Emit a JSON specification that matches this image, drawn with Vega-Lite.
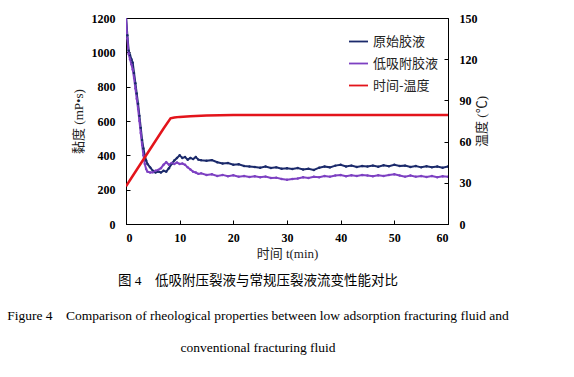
{
  "$schema": "https://vega.github.io/schema/vega-lite/v6.json",
  "width": 322,
  "height": 206,
  "autosize": "none",
  "padding": {"left": 126, "top": 18, "right": 126, "bottom": 153},
  "background": "white",
  "config": {
    "view": {"stroke": "black", "strokeWidth": 1},
    "axis": {
      "grid": false,
      "labelFont": "Liberation Serif",
      "labelFontWeight": "bold",
      "labelFontSize": 12,
      "labelColor": "black",
      "titleFont": "Liberation Serif, Noto Sans CJK SC",
      "titleFontWeight": "normal",
      "titleFontSize": 13,
      "titleColor": "#222222",
      "tickColor": "black",
      "domainColor": "black",
      "tickSize": -4,
      "labelPadding": 15,
      "format": "d"
    }
  },
  "title": {
    "text": "图 4　低吸附压裂液与常规压裂液流变性能对比",
    "subtitle": ["Figure 4\u00a0\u00a0\u00a0\u00a0Comparison of rheological properties between low adsorption fracturing fluid and", "conventional fracturing fluid"],
    "orient": "bottom",
    "anchor": "middle",
    "font": "Liberation Serif, Noto Sans CJK SC",
    "fontSize": 13.5,
    "fontWeight": "normal",
    "color": "black",
    "subtitleFont": "Liberation Serif",
    "subtitleFontSize": 13.5,
    "subtitleColor": "black",
    "subtitlePadding": 21,
    "subtitleLineHeight": 32,
    "offset": 14,
    "dx": -29
  },
  "datasets": {
    "visc": [
      {"t": 0, "v": 1215, "series": "原始胶液"},
      {"t": 0.25, "v": 1100, "series": "原始胶液"},
      {"t": 0.5, "v": 1010, "series": "原始胶液"},
      {"t": 0.75, "v": 985, "series": "原始胶液"},
      {"t": 1.0, "v": 960, "series": "原始胶液"},
      {"t": 1.25, "v": 940, "series": "原始胶液"},
      {"t": 1.5, "v": 880, "series": "原始胶液"},
      {"t": 1.75, "v": 820, "series": "原始胶液"},
      {"t": 2.0, "v": 760, "series": "原始胶液"},
      {"t": 2.25, "v": 700, "series": "原始胶液"},
      {"t": 2.5, "v": 630, "series": "原始胶液"},
      {"t": 2.75, "v": 560, "series": "原始胶液"},
      {"t": 3.0, "v": 490, "series": "原始胶液"},
      {"t": 3.25, "v": 440, "series": "原始胶液"},
      {"t": 3.5, "v": 400, "series": "原始胶液"},
      {"t": 3.75, "v": 370, "series": "原始胶液"},
      {"t": 4.0, "v": 350, "series": "原始胶液"},
      {"t": 4.5, "v": 330, "series": "原始胶液"},
      {"t": 5.0, "v": 310, "series": "原始胶液"},
      {"t": 5.5, "v": 300, "series": "原始胶液"},
      {"t": 6.0, "v": 305, "series": "原始胶液"},
      {"t": 6.5, "v": 300, "series": "原始胶液"},
      {"t": 7.0, "v": 310, "series": "原始胶液"},
      {"t": 7.5, "v": 305, "series": "原始胶液"},
      {"t": 8.0, "v": 325, "series": "原始胶液"},
      {"t": 8.5, "v": 350, "series": "原始胶液"},
      {"t": 9.0, "v": 370, "series": "原始胶液"},
      {"t": 9.5, "v": 385, "series": "原始胶液"},
      {"t": 10, "v": 400, "series": "原始胶液"},
      {"t": 10.5, "v": 385, "series": "原始胶液"},
      {"t": 11, "v": 390, "series": "原始胶液"},
      {"t": 11.5, "v": 375, "series": "原始胶液"},
      {"t": 12, "v": 385, "series": "原始胶液"},
      {"t": 12.5, "v": 378, "series": "原始胶液"},
      {"t": 13, "v": 390, "series": "原始胶液"},
      {"t": 13.5, "v": 375, "series": "原始胶液"},
      {"t": 14, "v": 372, "series": "原始胶液"},
      {"t": 15, "v": 368, "series": "原始胶液"},
      {"t": 16, "v": 372, "series": "原始胶液"},
      {"t": 17, "v": 360, "series": "原始胶液"},
      {"t": 18, "v": 352, "series": "原始胶液"},
      {"t": 19, "v": 355, "series": "原始胶液"},
      {"t": 20, "v": 345, "series": "原始胶液"},
      {"t": 21, "v": 348, "series": "原始胶液"},
      {"t": 22, "v": 338, "series": "原始胶液"},
      {"t": 23, "v": 335, "series": "原始胶液"},
      {"t": 24, "v": 332, "series": "原始胶液"},
      {"t": 25, "v": 328, "series": "原始胶液"},
      {"t": 26, "v": 335, "series": "原始胶液"},
      {"t": 27, "v": 326, "series": "原始胶液"},
      {"t": 28, "v": 330, "series": "原始胶液"},
      {"t": 29, "v": 322, "series": "原始胶液"},
      {"t": 30, "v": 325, "series": "原始胶液"},
      {"t": 31, "v": 320, "series": "原始胶液"},
      {"t": 32, "v": 326, "series": "原始胶液"},
      {"t": 33, "v": 318, "series": "原始胶液"},
      {"t": 34, "v": 322, "series": "原始胶液"},
      {"t": 35, "v": 315, "series": "原始胶液"},
      {"t": 36, "v": 328, "series": "原始胶液"},
      {"t": 37, "v": 335, "series": "原始胶液"},
      {"t": 38, "v": 330, "series": "原始胶液"},
      {"t": 39, "v": 340, "series": "原始胶液"},
      {"t": 40, "v": 345, "series": "原始胶液"},
      {"t": 41, "v": 335, "series": "原始胶液"},
      {"t": 42, "v": 340, "series": "原始胶液"},
      {"t": 43, "v": 332, "series": "原始胶液"},
      {"t": 44, "v": 338, "series": "原始胶液"},
      {"t": 45, "v": 335, "series": "原始胶液"},
      {"t": 46, "v": 340, "series": "原始胶液"},
      {"t": 47, "v": 333, "series": "原始胶液"},
      {"t": 48, "v": 342, "series": "原始胶液"},
      {"t": 49, "v": 336, "series": "原始胶液"},
      {"t": 50, "v": 345, "series": "原始胶液"},
      {"t": 51, "v": 338, "series": "原始胶液"},
      {"t": 52, "v": 340, "series": "原始胶液"},
      {"t": 53, "v": 332, "series": "原始胶液"},
      {"t": 54, "v": 338, "series": "原始胶液"},
      {"t": 55, "v": 330, "series": "原始胶液"},
      {"t": 56, "v": 336, "series": "原始胶液"},
      {"t": 57, "v": 330, "series": "原始胶液"},
      {"t": 58, "v": 335, "series": "原始胶液"},
      {"t": 59, "v": 328, "series": "原始胶液"},
      {"t": 60, "v": 335, "series": "原始胶液"},
      {"t": 0, "v": 1200, "series": "低吸附胶液"},
      {"t": 0.25, "v": 1080, "series": "低吸附胶液"},
      {"t": 0.5, "v": 990, "series": "低吸附胶液"},
      {"t": 0.75, "v": 960, "series": "低吸附胶液"},
      {"t": 1.0, "v": 930, "series": "低吸附胶液"},
      {"t": 1.25, "v": 900, "series": "低吸附胶液"},
      {"t": 1.5, "v": 850, "series": "低吸附胶液"},
      {"t": 1.75, "v": 790, "series": "低吸附胶液"},
      {"t": 2.0, "v": 730, "series": "低吸附胶液"},
      {"t": 2.25, "v": 670, "series": "低吸附胶液"},
      {"t": 2.5, "v": 600, "series": "低吸附胶液"},
      {"t": 2.75, "v": 530, "series": "低吸附胶液"},
      {"t": 3.0, "v": 460, "series": "低吸附胶液"},
      {"t": 3.25, "v": 400, "series": "低吸附胶液"},
      {"t": 3.5, "v": 350, "series": "低吸附胶液"},
      {"t": 3.75, "v": 320, "series": "低吸附胶液"},
      {"t": 4.0, "v": 305, "series": "低吸附胶液"},
      {"t": 4.5, "v": 300, "series": "低吸附胶液"},
      {"t": 5.0, "v": 302, "series": "低吸附胶液"},
      {"t": 5.5, "v": 310, "series": "低吸附胶液"},
      {"t": 6.0, "v": 315, "series": "低吸附胶液"},
      {"t": 6.5, "v": 325, "series": "低吸附胶液"},
      {"t": 7.0, "v": 345, "series": "低吸附胶液"},
      {"t": 7.5, "v": 360, "series": "低吸附胶液"},
      {"t": 8.0, "v": 345, "series": "低吸附胶液"},
      {"t": 8.5, "v": 355, "series": "低吸附胶液"},
      {"t": 9.0, "v": 350, "series": "低吸附胶液"},
      {"t": 9.5, "v": 358, "series": "低吸附胶液"},
      {"t": 10, "v": 350, "series": "低吸附胶液"},
      {"t": 10.5, "v": 352, "series": "低吸附胶液"},
      {"t": 11, "v": 345, "series": "低吸附胶液"},
      {"t": 11.5, "v": 330, "series": "低吸附胶液"},
      {"t": 12, "v": 318, "series": "低吸附胶液"},
      {"t": 12.5, "v": 305, "series": "低吸附胶液"},
      {"t": 13, "v": 300, "series": "低吸附胶液"},
      {"t": 13.5, "v": 292, "series": "低吸附胶液"},
      {"t": 14, "v": 295, "series": "低吸附胶液"},
      {"t": 15, "v": 285, "series": "低吸附胶液"},
      {"t": 16, "v": 290, "series": "低吸附胶液"},
      {"t": 17, "v": 280, "series": "低吸附胶液"},
      {"t": 18, "v": 286, "series": "低吸附胶液"},
      {"t": 19, "v": 278, "series": "低吸附胶液"},
      {"t": 20, "v": 284, "series": "低吸附胶液"},
      {"t": 21, "v": 276, "series": "低吸附胶液"},
      {"t": 22, "v": 280, "series": "低吸附胶液"},
      {"t": 23, "v": 274, "series": "低吸附胶液"},
      {"t": 24, "v": 278, "series": "低吸附胶液"},
      {"t": 25, "v": 272, "series": "低吸附胶液"},
      {"t": 26, "v": 276, "series": "低吸附胶液"},
      {"t": 27, "v": 268, "series": "低吸附胶液"},
      {"t": 28, "v": 270, "series": "低吸附胶液"},
      {"t": 29, "v": 262, "series": "低吸附胶液"},
      {"t": 30, "v": 258, "series": "低吸附胶液"},
      {"t": 31, "v": 262, "series": "低吸附胶液"},
      {"t": 32, "v": 265, "series": "低吸附胶液"},
      {"t": 33, "v": 272, "series": "低吸附胶液"},
      {"t": 34, "v": 268, "series": "低吸附胶液"},
      {"t": 35, "v": 275, "series": "低吸附胶液"},
      {"t": 36, "v": 272, "series": "低吸附胶液"},
      {"t": 37, "v": 280, "series": "低吸附胶液"},
      {"t": 38, "v": 276, "series": "低吸附胶液"},
      {"t": 39, "v": 282, "series": "低吸附胶液"},
      {"t": 40, "v": 285, "series": "低吸附胶液"},
      {"t": 41, "v": 278, "series": "低吸附胶液"},
      {"t": 42, "v": 284, "series": "低吸附胶液"},
      {"t": 43, "v": 280, "series": "低吸附胶液"},
      {"t": 44, "v": 286, "series": "低吸附胶液"},
      {"t": 45, "v": 282, "series": "低吸附胶液"},
      {"t": 46, "v": 278, "series": "低吸附胶液"},
      {"t": 47, "v": 284, "series": "低吸附胶液"},
      {"t": 48, "v": 280, "series": "低吸附胶液"},
      {"t": 49, "v": 286, "series": "低吸附胶液"},
      {"t": 50, "v": 290, "series": "低吸附胶液"},
      {"t": 51, "v": 282, "series": "低吸附胶液"},
      {"t": 52, "v": 276, "series": "低吸附胶液"},
      {"t": 53, "v": 282, "series": "低吸附胶液"},
      {"t": 54, "v": 276, "series": "低吸附胶液"},
      {"t": 55, "v": 280, "series": "低吸附胶液"},
      {"t": 56, "v": 274, "series": "低吸附胶液"},
      {"t": 57, "v": 280, "series": "低吸附胶液"},
      {"t": 58, "v": 272, "series": "低吸附胶液"},
      {"t": 59, "v": 278, "series": "低吸附胶液"},
      {"t": 60, "v": 275, "series": "低吸附胶液"}
    ],
    "temp": [
      {"t": 0, "c": 27.5},
      {"t": 1, "c": 33.5},
      {"t": 2, "c": 39.5},
      {"t": 3, "c": 45.5},
      {"t": 4, "c": 51.5},
      {"t": 5, "c": 57.5},
      {"t": 6, "c": 63.5},
      {"t": 7, "c": 69.5},
      {"t": 8.3, "c": 77},
      {"t": 9, "c": 77.6},
      {"t": 10, "c": 78},
      {"t": 12, "c": 78.5},
      {"t": 15, "c": 79},
      {"t": 20, "c": 79.3},
      {"t": 25, "c": 79.4},
      {"t": 60, "c": 79.4}
    ]
  },
  "layer": [
    {
      "data": {"name": "visc"},
      "mark": {"type": "line", "strokeWidth": 2, "clip": true, "point": {"filled": true, "size": 6}},
      "encoding": {
        "x": {"field": "t", "type": "quantitative", "scale": {"domain": [0, 60]},
              "axis": {"values": [0, 10, 20, 30, 40, 50, 60], "title": "时间 t(min)", "titlePadding": 4, "labelPadding": 12}},
        "y": {"field": "v", "type": "quantitative", "scale": {"domain": [0, 1200]},
              "axis": {"values": [0, 200, 400, 600, 800, 1000, 1200], "title": "黏度 (mP•s)", "titlePadding": 6}},
        "color": {"field": "series", "type": "nominal",
                  "scale": {"domain": ["原始胶液", "低吸附胶液", "时间-温度"], "range": ["#1b2a6b", "#7d40c2", "#e3141b"]},
                  "legend": {"title": null, "orient": "none", "legendX": 222, "legendY": 13,
                             "symbolType": "stroke", "symbolSize": 361, "symbolStrokeWidth": 1.8,
                             "labelFont": "Noto Sans CJK SC", "labelFontSize": 13, "labelColor": "#222222",
                             "labelOffset": 4, "rowPadding": 4}}
      }
    },
    {
      "data": {"name": "temp"},
      "mark": {"type": "line", "strokeWidth": 2.5, "clip": true},
      "encoding": {
        "x": {"field": "t", "type": "quantitative", "scale": {"domain": [0, 60]}},
        "y": {"field": "c", "type": "quantitative", "scale": {"domain": [0, 150]},
              "axis": {"orient": "right", "values": [0, 30, 60, 90, 120, 150], "title": "温度 (℃)", "titleAngle": -90, "titlePadding": 11}},
        "color": {"datum": "时间-温度"}
      }
    }
  ],
  "resolve": {"scale": {"y": "independent"}}
}
